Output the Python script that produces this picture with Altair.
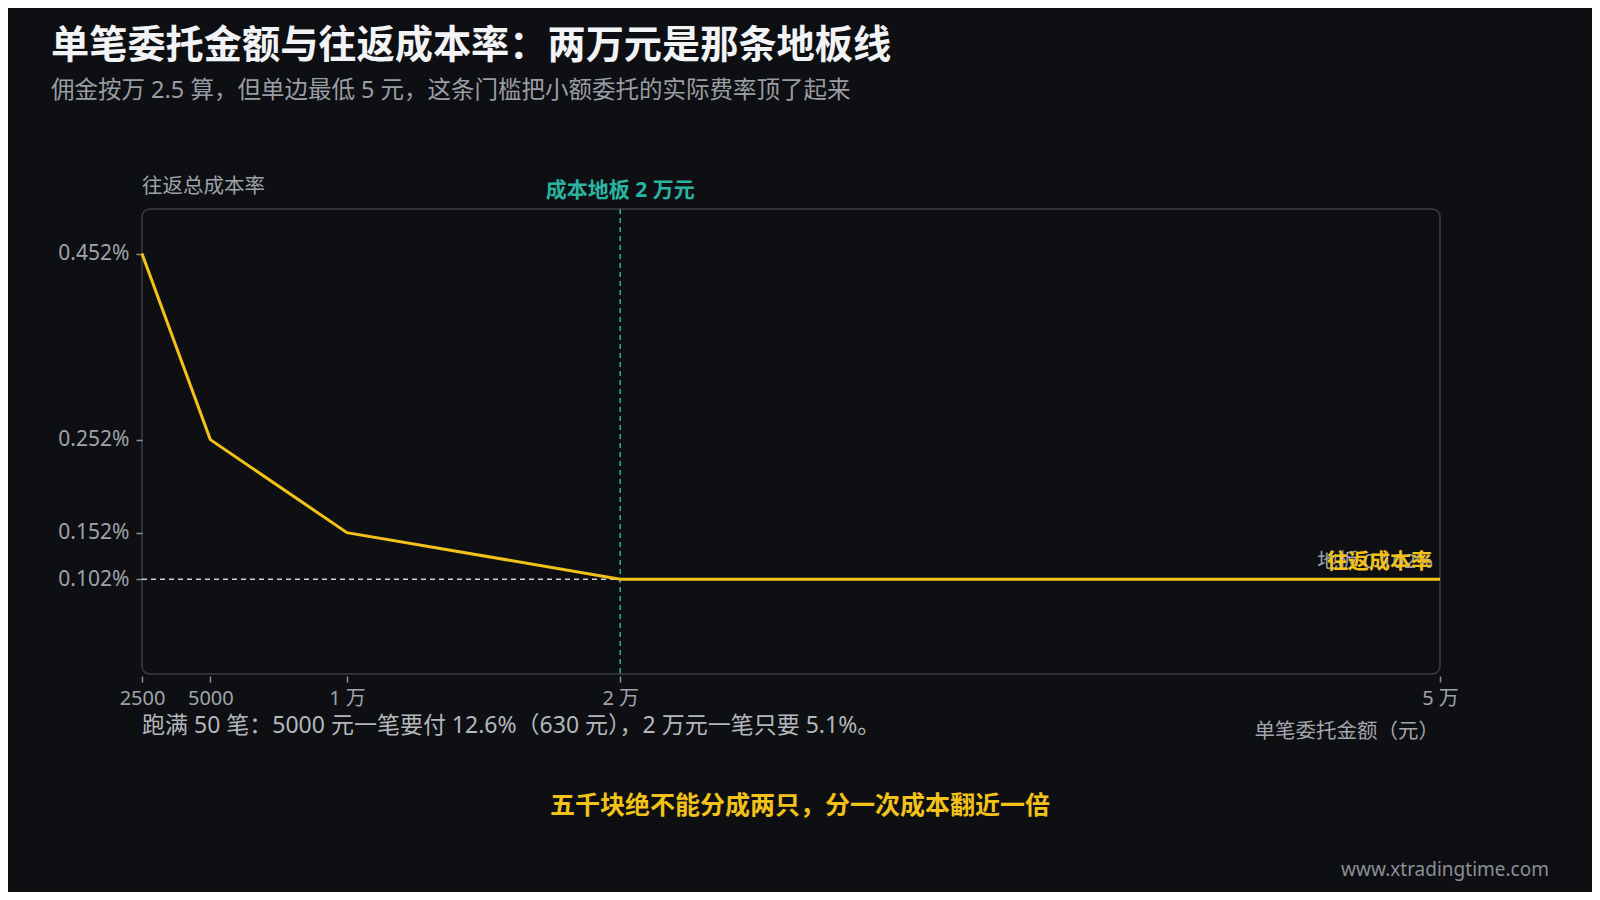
import altair as alt
import pandas as pd

# ---- data ----
amounts = [2500, 5000, 10000, 20000, 50000]          # 单笔委托金额（元）
cost_rates = [0.452, 0.252, 0.152, 0.102, 0.102]      # 往返总成本率（%）
x_tick_values = [2500, 5000, 10000, 20000, 50000]
y_tick_values = [0.102, 0.152, 0.252, 0.452]
floor_amount = 20000
floor_rate = 0.102

title_text = "单笔委托金额与往返成本率：两万元是那条地板线"
subtitle_text = "佣金按万 2.5 算，但单边最低 5 元，这条门槛把小额委托的实际费率顶了起来"
y_title_text = "往返总成本率"
x_title_text = "单笔委托金额（元）"
floor_label_text = "成本地板 2 万元"
series_label_text = "往返成本率"
floor_value_text = "地板 0.102%"
note_text = "跑满 50 笔：5000 元一笔要付 12.6%（630 元），2 万元一笔只要 5.1%。"
footer_text = "五千块绝不能分成两只，分一次成本翻近一倍"
source_text = "www.xtradingtime.com"

# ---- style ----
BG = "#0e0f13"
YELLOW = "#f2c218"
TEAL = "#2bb3a1"
GRAY = "#a0a3a9"
FONT = "Noto Sans, Noto Sans CJK SC, sans-serif"
W, H = 1298, 465

df_line = pd.DataFrame({"amount": amounts, "rate": cost_rates})
df_floor = pd.DataFrame({"x0": [amounts[0]], "x1": [floor_amount], "y": [floor_rate]})
df_vline = pd.DataFrame({"x": [floor_amount]})
df_end = pd.DataFrame({"x": [amounts[-1]], "y": [cost_rates[-1]]})
one = pd.DataFrame({"k": [0]})

x_scale = alt.Scale(domain=[amounts[0], amounts[-1]], nice=False, zero=False)
y_scale = alt.Scale(domain=[0, 0.5], nice=False, zero=True)

line = alt.Chart(df_line).mark_line(color=YELLOW, strokeWidth=3).encode(
    x=alt.X("amount:Q", scale=x_scale,
            axis=alt.Axis(values=x_tick_values, title=None, labelFlush=False, labelOverlap=False,
                          labelExpr="datum.value >= 10000 ? format(datum.value / 10000, 'd') + ' 万' : format(datum.value, 'd')",
                          offset=2, labelPadding=6, labelFontSize=20)),
    y=alt.Y("rate:Q", scale=y_scale,
            axis=alt.Axis(values=y_tick_values, title=None, labelFlush=False, labelOverlap=False,
                          labelExpr="format(datum.value, '.3f') + '%'", labelPadding=7, labelFontSize=21)),
)

floor_rule = alt.Chart(df_floor).mark_rule(color="#cfd1d4", strokeWidth=1.5, strokeDash=[5, 4]).encode(
    x=alt.X("x0:Q", scale=x_scale), x2="x1:Q", y=alt.Y("y:Q", scale=y_scale)
)

vline = alt.Chart(df_vline).mark_rule(color=TEAL, strokeWidth=1.5, strokeDash=[5, 4]).encode(
    x=alt.X("x:Q", scale=x_scale)
)

vlabel = alt.Chart(df_vline).mark_text(
    color=TEAL, font=FONT, fontSize=21, fontWeight="bold", align="center", baseline="alphabetic"
).encode(x=alt.X("x:Q", scale=x_scale), y=alt.value(-12), text=alt.value(floor_label_text))

end_gray = alt.Chart(df_end).mark_text(
    color=GRAY, font=FONT, fontSize=20.5, align="right", baseline="alphabetic", dx=-7, dy=-11
).encode(x=alt.X("x:Q", scale=x_scale), y=alt.Y("y:Q", scale=y_scale), text=alt.value(floor_value_text))

end_yellow = alt.Chart(df_end).mark_text(
    color=YELLOW, font=FONT, fontSize=21, fontWeight="bold", align="right", baseline="alphabetic", dx=-8, dy=-11
).encode(x=alt.X("x:Q", scale=x_scale), y=alt.Y("y:Q", scale=y_scale), text=alt.value(series_label_text))


def label(text, x, y, size, color, align="left", weight="normal"):
    return alt.Chart(one).mark_text(
        color=color, font=FONT, fontSize=size, fontWeight=weight, align=align, baseline="alphabetic"
    ).encode(x=alt.value(x), y=alt.value(y), text=alt.value(text))


title = label(title_text, -91, -151, 38.2, "#f2f3f5", weight="bold")
subtitle = label(subtitle_text, -91, -111, 23.5, "#9a9da3")
y_title = label(y_title_text, 0, -16, 20.5, "#9fa2a8")
x_title = label(x_title_text, 1297, 529, 20.5, "#a3a6ac", align="right")
note = label(note_text, 0, 524, 23, "#b4b7bc")
footer = label(footer_text, 658, 605, 25, YELLOW, align="center", weight="bold")
source = label(source_text, 1407, 667, 19, "#8b8e94", align="right")

chart = alt.layer(
    floor_rule, vline, line, vlabel, end_gray, end_yellow,
    title, subtitle, y_title, x_title, note, footer, source,
).properties(
    width=W, height=H,
    autosize=alt.AutoSizeParams(type="none"),
    padding={"left": 134, "top": 201, "right": 152, "bottom": 218},
    background=BG,
).configure_view(
    stroke="#3b3e45", strokeWidth=1.5, cornerRadius=8
).configure_axis(
    grid=False, domain=False, tickColor="#8d9096", tickSize=6, tickWidth=1.5,
    labelColor=GRAY, labelFont=FONT, labelFontSize=20,
)

chart.save("out.html", embed_options={"renderer": "svg", "actions": False})
